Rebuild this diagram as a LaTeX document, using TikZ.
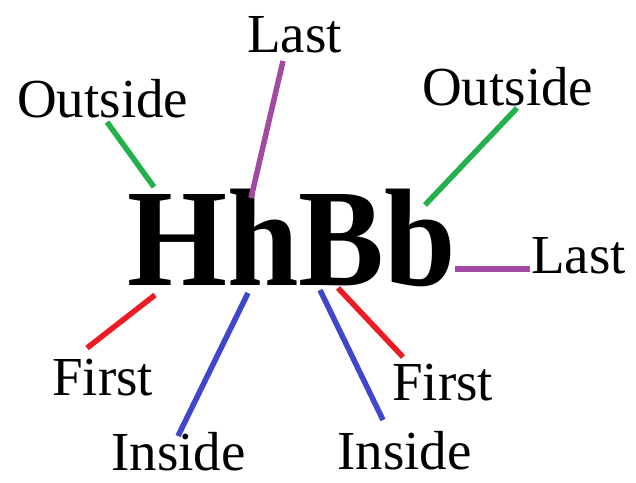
\documentclass[tikz,border=0pt]{standalone}
\usepackage{fontspec}
\setmainfont{Liberation Serif}
\definecolor{pgreen}{RGB}{34,177,76}
\definecolor{pred}{RGB}{237,28,36}
\definecolor{ppurple}{RGB}{163,73,164}
\definecolor{pblue}{RGB}{63,72,204}
\tikzset{
  lbl/.style={anchor=base west,inner sep=0pt,font=\fontsize{55}{57}\selectfont},
  big/.style={anchor=base west,inner sep=0pt,font=\fontsize{139}{140}\selectfont\bfseries},
  conn/.style={line width=5.5pt,line cap=butt}
}
\begin{document}
\begin{tikzpicture}[x=1pt,y=-1pt]
\useasboundingbox (0,0) rectangle (636,482);
\node[big] (hb) at (127,285) {\scalebox{0.925}[1]{HhBb}};
\node[lbl] (outl) at (17,117) {Outside};
\node[lbl] (lastt) at (247,52) {Last};
\node[lbl] (outr) at (422,105) {Outside};
\node[lbl] (lastr) at (531,273) {Last};
\node[lbl] (firstl) at (52,395) {First};
\node[lbl] (firstr) at (392,400) {First};
\node[lbl] (insl) at (111,470) {Inside};
\node[lbl] (insr) at (337,469) {Inside};
\coordinate (gl1) at (107,122); \coordinate (gl2) at (154,187);
\coordinate (pt1) at (283,61);  \coordinate (pt2) at (251,198);
\coordinate (gr1) at (517,108); \coordinate (gr2) at (425,205);
\coordinate (pr1) at (455,269); \coordinate (pr2) at (530,269);
\coordinate (rl1) at (155,295); \coordinate (rl2) at (87,348);
\coordinate (bl1) at (248,293); \coordinate (bl2) at (178,436);
\coordinate (br1) at (320,290); \coordinate (br2) at (383,420);
\coordinate (rr1) at (338,288); \coordinate (rr2) at (403,357);
\draw[conn,pgreen] (gl1) -- (gl2);
\draw[conn,ppurple] (pt1) -- (pt2);
\draw[conn,pgreen] (gr1) -- (gr2);
\draw[conn,ppurple] (pr1) -- (pr2);
\draw[conn,pred] (rl1) -- (rl2);
\draw[conn,pblue] (bl1) -- (bl2);
\draw[conn,pblue] (br1) -- (br2);
\draw[conn,pred] (rr1) -- (rr2);
\end{tikzpicture}
\end{document}
